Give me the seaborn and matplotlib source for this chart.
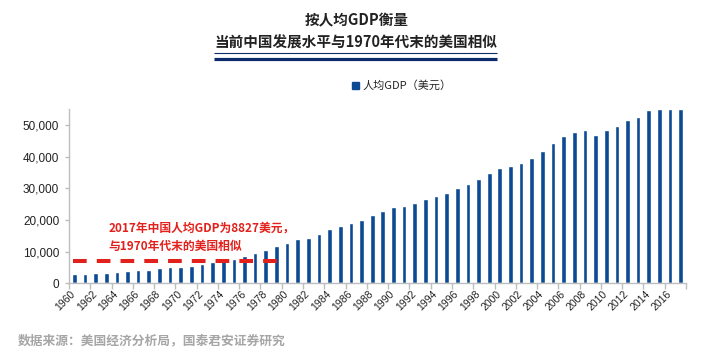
import matplotlib
matplotlib.use("Agg")
import matplotlib.pyplot as plt
import matplotlib.lines as mlines
import seaborn as sns
import pandas as pd
from matplotlib.patches import Patch

# 美国人均GDP（美元）
years = list(range(1960, 2018))
gdp_per_capita = [
    2950, 3070, 3240, 3380, 3570, 3830, 4150, 4340, 4700, 5030,
    5230, 5610, 6090, 6730, 7230, 7800, 8590, 9450, 10560, 11670,
    12580, 13980, 14430, 15540, 17120, 18240, 19070, 20000, 21470, 22950,
    24000, 24320, 25470, 26530, 27580, 28630, 30000, 31470, 32950, 34740,
    36530, 37160, 37900, 39680, 41900, 44420, 46530, 47900, 48320, 46950,
    48320, 49790, 51470, 52630, 54740, 55100, 55100, 55100,
]
yticks = [0, 10000, 20000, 30000, 40000, 50000]
xtick_years = years[::2]
china_level = 7000

title1 = "按人均GDP衡量"
title2 = "当前中国发展水平与1970年代末的美国相似"
legend_label = "人均GDP（美元）"
note_text = "2017年中国人均GDP为8827美元，\n与1970年代末的美国相似"
source_text = "数据来源：美国经济分析局，国泰君安证券研究"

df = pd.DataFrame({"年份": years, "人均GDP": gdp_per_capita})

sns.set_theme(style="white")
plt.rcParams["font.family"] = ["Liberation Sans", "Noto Sans CJK SC"]
cjk = ["Noto Sans CJK SC", "DejaVu Sans"]

bar_color = "#0c4a93"
navy = "#0d2a6b"
gray = "#bdbdbd"

fig = plt.figure(figsize=(7.2, 3.58), dpi=100)
ax = fig.add_axes([0.0958, 0.2087, 0.857, 0.488])

sns.barplot(data=df, x="年份", y="人均GDP", color=bar_color, saturation=1,
            width=0.44, native_scale=True, ax=ax)

ax.set_xlim(years[0] - 0.5, years[-1] + 0.5)
ax.set_ylim(0, 55200)

# 中国水平的虚线（1960 至 1979 年）
ax.plot([years[0] - 0.1, 1979.3], [china_level, china_level], color="#e3211c",
        linewidth=2.9, linestyle=(0, (3.4, 2.5)), dash_capstyle="butt",
        zorder=5)
ax.text(1963.2, 14600, note_text, color="#e3211c", fontsize=8.5,
        linespacing=1.5, va="center", ha="left", fontweight="bold",
        family=cjk)

# 坐标轴
ax.set_xlabel("")
ax.set_ylabel("")
for s in ["top", "right"]:
    ax.spines[s].set_visible(False)
for s in ["left", "bottom"]:
    ax.spines[s].set_color(gray)
    ax.spines[s].set_linewidth(1)

ax.set_yticks(yticks)
ax.set_yticklabels([f"{v:,}" for v in yticks], fontsize=8.5, color="#222222")
ax.tick_params(axis="y", length=3, width=1, color=gray, direction="out",
               pad=4, left=True)

# x 轴：刻度线在每两年的分界处，年份标签斜放
ax.set_xticks([y - 0.5 for y in xtick_years] + [years[-1] + 0.5])
ax.set_xticklabels([])
ax.tick_params(axis="x", length=4, width=1, color=gray, direction="out",
               bottom=True)
xtrans = ax.get_xaxis_transform()
for y in xtick_years:
    ax.text(y + 0.3, -0.03, str(y), transform=xtrans, rotation=45,
            ha="right", va="top", fontsize=7.5, color="#222222",
            clip_on=False)

# 图例
handle = Patch(facecolor=bar_color, edgecolor=bar_color)
fig.legend([handle], [legend_label], loc="center", bbox_to_anchor=(0.558, 0.76),
           frameon=False, prop={"family": cjk, "size": 8}, handlelength=0.6,
           handleheight=0.6, handletextpad=0.3)

# 标题
fig.text(0.496, 0.944, title1, ha="center", va="center", fontsize=10.5,
         fontweight="bold", color="#222222", family=cjk)
fig.text(0.494, 0.882, title2, ha="center", va="center", fontsize=10.5,
         fontweight="bold", color="#222222", family=cjk)
fig.add_artist(mlines.Line2D([0.297, 0.690], [0.852, 0.852], color=navy,
                             linewidth=0.8, solid_capstyle="butt"))
fig.add_artist(mlines.Line2D([0.297, 0.690], [0.835, 0.835], color=navy,
                             linewidth=2.3, solid_capstyle="butt"))

# 数据来源
fig.text(0.025, 0.048, source_text, ha="left", va="center", fontsize=9.2,
         fontweight="bold", color="#a6a6a6", family=cjk)

fig.savefig("out.png", dpi=100)
